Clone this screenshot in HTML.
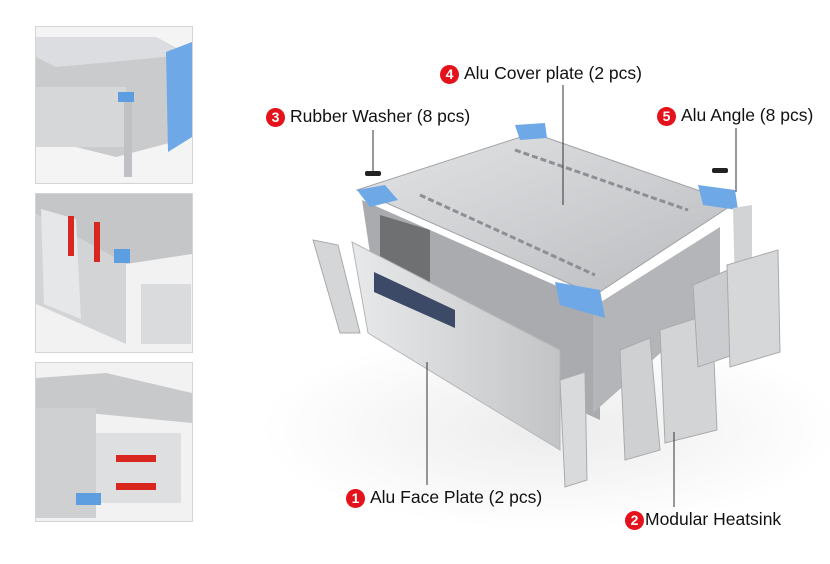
<!DOCTYPE html>
<html><head><style>
body{margin:0;width:830px;height:564px;background:#fff;overflow:hidden;font-family:"Liberation Sans",sans-serif;}
.th{position:absolute;left:35px;width:156px;border:1px solid #d4d4d4;background:#eceef0;overflow:hidden}
.lb{position:absolute;font-size:17.5px;color:#111;white-space:nowrap;line-height:20px}
.c{display:inline-block;width:19px;height:19px;border-radius:50%;background:#e3121b;color:#fff;font-size:14px;font-weight:bold;text-align:center;line-height:19px;vertical-align:0px;margin-right:5px}
</style></head><body>
<div class="th" style="top:26px;height:156px">
<svg width="156" height="156"><rect width="156" height="156" fill="#f4f4f4"/><polygon points="0,10 120,10 156,30 156,110 80,130 0,110" fill="#c9cbcd"/><polygon points="0,10 120,10 150,28 20,40 0,30" fill="#dcdde0"/><polygon points="130,25 156,15 156,110 132,125" fill="#6fa8e6"/><rect x="0" y="60" width="90" height="60" fill="#d6d7d9"/><rect x="88" y="70" width="8" height="80" fill="#bfc1c4"/><rect x="82" y="65" width="16" height="10" fill="#5d9ee0"/></svg></div>
<div class="th" style="top:193px;height:158px">
<svg width="156" height="158"><rect width="156" height="158" fill="#f2f2f2"/><polygon points="0,0 156,0 156,60 90,70 0,20" fill="#c4c6c8"/><polygon points="0,20 90,70 90,150 0,110" fill="#d3d4d6"/><polygon points="5,15 40,25 45,125 8,110" fill="#e6e7e8"/><rect x="32" y="22" width="6" height="40" fill="#d9271f"/><rect x="58" y="28" width="6" height="40" fill="#d9271f"/><rect x="105" y="90" width="50" height="60" fill="#dadbdd"/><rect x="78" y="55" width="16" height="14" fill="#5d9ee0"/></svg></div>
<div class="th" style="top:362px;height:158px">
<svg width="156" height="158"><rect width="156" height="158" fill="#f2f2f2"/><polygon points="0,15 70,10 156,30 156,60 0,45" fill="#c8c9cb"/><rect x="0" y="45" width="60" height="110" fill="#cfd0d2"/><rect x="60" y="70" width="85" height="70" fill="#dedfe1"/><rect x="80" y="92" width="40" height="7" fill="#d9271f"/><rect x="80" y="120" width="40" height="7" fill="#d9271f"/><rect x="40" y="130" width="25" height="12" fill="#5d9ee0"/></svg></div>

<svg style="position:absolute;left:0;top:0" width="830" height="564">
<defs>
<linearGradient id="g1" x1="0" y1="0" x2="1" y2="1"><stop offset="0" stop-color="#e3e4e6"/><stop offset="1" stop-color="#b9bbbe"/></linearGradient>
<linearGradient id="g2" x1="0" y1="0" x2="1" y2="0"><stop offset="0" stop-color="#e8e9ea"/><stop offset="1" stop-color="#c3c4c6"/></linearGradient>
<radialGradient id="sh"><stop offset="0" stop-color="#ececec"/><stop offset="1" stop-color="#fff"/></radialGradient>
</defs>
<ellipse cx="550" cy="430" rx="290" ry="100" fill="url(#sh)"/>
<polygon points="362,200 600,305 600,420 380,320" fill="#a9abae"/>
<polygon points="593,307 720,227 720,300 593,413" fill="#b3b5b8"/>
<polygon points="380,215 430,230 430,300 380,290" fill="#6e7072"/>
<polygon points="357,190 533,133 735,203 595,295" fill="url(#g1)" stroke="#9fa1a4"/>
<line x1="420" y1="195" x2="595" y2="275" stroke="#8d8f92" stroke-width="3" stroke-dasharray="6,3"/>
<line x1="515" y1="150" x2="688" y2="210" stroke="#8d8f92" stroke-width="3" stroke-dasharray="6,3"/>
<polygon points="357,190 385,185 398,200 370,207" fill="#6fa8e6"/>
<polygon points="515,125 545,123 547,138 520,140" fill="#6fa8e6"/>
<polygon points="698,185 735,190 738,210 703,205" fill="#6fa8e6"/>
<polygon points="555,282 600,290 605,318 560,305" fill="#6fa8e6"/>
<rect x="365" y="171" width="16" height="5" rx="2" fill="#222"/>
<rect x="712" y="168" width="16" height="5" rx="2" fill="#222"/>
<polygon points="352,242 560,350 560,450 368,333" fill="url(#g2)" stroke="#b4b6b8"/>
<polygon points="374,272 455,310 455,328 374,292" fill="#3c4a68"/>
<polygon points="313,240 338,245 360,333 340,333" fill="#d4d6d8" stroke="#aaa"/>
<polygon points="560,380 585,372 587,480 565,487" fill="#d9dadc" stroke="#aaa"/>
<polygon points="733,208 752,205 752,287 735,292" fill="#d2d3d5"/>
<polygon points="620,350 650,338 660,450 625,460" fill="#cfd0d2" stroke="#aaa"/>
<polygon points="660,330 712,313 717,430 665,443" fill="#d3d4d6" stroke="#aaa"/>
<polygon points="693,285 728,270 733,355 698,367" fill="#cbcccf" stroke="#aaa"/>
<polygon points="727,265 778,250 780,352 730,367" fill="#d6d7d9" stroke="#aaa"/>
<g stroke="#333" stroke-width="1"><line x1="563" y1="85" x2="563" y2="205"/><line x1="373" y1="130" x2="373" y2="172"/><line x1="736" y1="128" x2="736" y2="192"/><line x1="427" y1="362" x2="427" y2="485"/><line x1="674" y1="432" x2="674" y2="507"/></g>
</svg>
<div class="lb" style="left:440px;top:63px"><span class="c">4</span>Alu Cover plate (2 pcs)</div>
<div class="lb" style="left:266px;top:106px"><span class="c">3</span>Rubber Washer (8 pcs)</div>
<div class="lb" style="left:657px;top:105px"><span class="c">5</span>Alu Angle (8 pcs)</div>
<div class="lb" style="left:346px;top:487px"><span class="c">1</span>Alu Face Plate (2 pcs)</div>
<div class="lb" style="left:625px;top:509px"><span class="c" style="margin-right:1px">2</span>Modular Heatsink</div>
</body></html>
